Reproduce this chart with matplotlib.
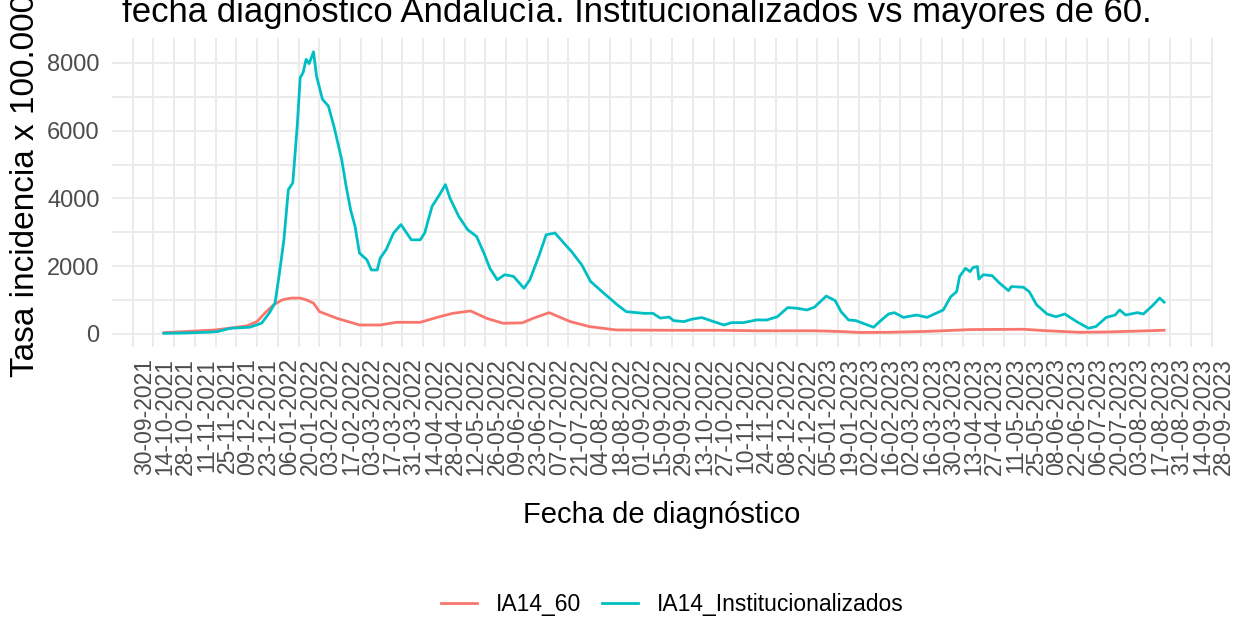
import matplotlib
matplotlib.use("Agg")
import matplotlib.pyplot as plt
import pandas as pd

plt.rcParams['font.family'] = ['Liberation Sans', 'DejaVu Sans']

# IA14 residencias (institucionalizados)
inst_fechas = [
    "2021-10-21", "2021-11-04", "2021-11-18", "2021-11-26", "2021-12-05", "2021-12-18",
    "2021-12-26", "2021-12-31", "2022-01-04", "2022-01-07", "2022-01-10", "2022-01-13",
    "2022-01-16", "2022-01-19", "2022-01-21", "2022-01-23", "2022-01-25", "2022-01-27",
    "2022-01-30", "2022-02-01", "2022-02-05", "2022-02-09", "2022-02-13", "2022-02-18",
    "2022-02-21", "2022-02-24", "2022-02-27", "2022-03-02", "2022-03-07", "2022-03-10",
    "2022-03-14", "2022-03-16", "2022-03-20", "2022-03-25", "2022-03-30", "2022-04-06",
    "2022-04-12", "2022-04-15", "2022-04-20", "2022-04-25", "2022-04-29", "2022-05-02",
    "2022-05-08", "2022-05-14", "2022-05-20", "2022-05-25", "2022-05-29", "2022-06-03",
    "2022-06-08", "2022-06-14", "2022-06-21", "2022-06-25", "2022-07-01", "2022-07-06",
    "2022-07-12", "2022-07-18", "2022-07-23", "2022-07-30", "2022-08-05", "2022-08-14",
    "2022-08-23", "2022-08-29", "2022-09-10", "2022-09-16", "2022-09-21", "2022-09-27",
    "2022-09-30", "2022-10-07", "2022-10-12", "2022-10-19", "2022-10-25", "2022-11-03",
    "2022-11-08", "2022-11-16", "2022-11-25", "2022-12-02", "2022-12-09", "2022-12-16",
    "2022-12-22", "2022-12-29", "2023-01-03", "2023-01-11", "2023-01-17", "2023-01-21",
    "2023-01-26", "2023-01-31", "2023-02-06", "2023-02-12", "2023-02-16", "2023-02-22",
    "2023-02-26", "2023-03-04", "2023-03-13", "2023-03-20", "2023-03-27", "2023-03-31",
    "2023-04-05", "2023-04-09", "2023-04-11", "2023-04-15", "2023-04-18", "2023-04-20",
    "2023-04-23", "2023-04-24", "2023-04-27", "2023-05-03", "2023-05-08", "2023-05-14",
    "2023-05-16", "2023-05-24", "2023-05-28", "2023-06-02", "2023-06-09", "2023-06-15",
    "2023-06-21", "2023-06-29", "2023-07-07", "2023-07-12", "2023-07-19", "2023-07-25",
    "2023-07-28", "2023-08-01", "2023-08-09", "2023-08-13", "2023-08-19", "2023-08-24",
    "2023-08-27",
]
inst_valores = [
    20, 30, 50, 70, 170, 200,
    320, 610, 910, 1800, 2780, 4260,
    4460, 6140, 7570, 7720, 8110, 7980,
    8330, 7620, 6930, 6730, 6090, 5150,
    4360, 3670, 3180, 2390, 2190, 1890,
    1890, 2240, 2490, 2980, 3230, 2780,
    2780, 2980, 3770, 4110, 4410, 4020,
    3470, 3080, 2880, 2390, 1940, 1600,
    1750, 1700, 1350, 1600, 2290, 2930,
    2980, 2680, 2440, 2040, 1550, 1200,
    860, 660, 610, 610, 470, 500,
    395, 365, 435, 485, 395, 266,
    335, 335, 415, 415, 510, 780,
    760, 710, 790, 1120, 985, 660,
    415, 395, 296, 200, 365, 590,
    630, 490, 560, 490, 630, 710,
    1100, 1250, 1700, 1940, 1840, 1960,
    1990, 1620, 1750, 1720, 1500, 1280,
    1400, 1380, 1250, 860, 590, 510,
    590, 365, 170, 220, 490, 560,
    710, 560, 630, 590, 830, 1060,
    940,
]

# IA14 mayores de 60
may60_fechas = [
    "2021-10-21", "2021-11-25", "2021-12-16", "2021-12-23", "2021-12-28", "2022-01-03",
    "2022-01-09", "2022-01-15", "2022-01-21", "2022-01-25", "2022-01-30", "2022-02-03",
    "2022-02-15", "2022-03-02", "2022-03-16", "2022-03-27", "2022-04-12", "2022-04-25",
    "2022-05-04", "2022-05-16", "2022-05-27", "2022-06-07", "2022-06-20", "2022-06-27",
    "2022-07-08", "2022-07-22", "2022-08-04", "2022-08-22", "2022-09-27", "2022-10-31",
    "2022-11-25", "2023-01-03", "2023-01-23", "2023-02-02", "2023-02-22", "2023-03-22",
    "2023-04-18", "2023-05-24", "2023-06-07", "2023-07-01", "2023-07-20", "2023-08-27",
]
may60_valores = [
    40, 120, 240, 370, 610, 860,
    1010, 1060, 1060, 1010, 910, 660,
    460, 266, 266, 345, 345, 510,
    610, 680, 460, 316, 330, 460,
    630, 370, 220, 120, 110, 110,
    95, 95, 70, 45, 50, 80,
    130, 140, 100, 50, 60, 110,
]

series = ["IA14_60", "IA14_Institucionalizados"]
colores = ["#F8766D", "#00BFC4"]

ticks = pd.date_range("2021-09-30", "2023-09-28", freq="14D")

fig = plt.figure(figsize=(12.39, 6.19), dpi=100)
ax = fig.add_axes([112 / 1239, 1 - 347 / 619, (1213 - 112) / 1239, (347 - 38) / 619])

ax.plot(pd.to_datetime(may60_fechas), may60_valores, color=colores[0], lw=2.0, label=series[0])
ax.plot(pd.to_datetime(inst_fechas), inst_valores, color=colores[1], lw=2.0, label=series[1])

ax.set_xlim(pd.Timestamp("2021-09-16"), pd.Timestamp("2023-09-29"))
ax.set_ylim(-384, 8738)
ax.set_xticks(ticks)
ax.set_xticklabels([t.strftime("%d-%m-%Y") for t in ticks], rotation=90,
                   ha="left", va="top", fontsize=16.5, color="#4D4D4D")
ax.set_yticks([0, 2000, 4000, 6000, 8000])
ax.set_yticks([1000, 3000, 5000, 7000], minor=True)
ax.tick_params(axis="y", labelsize=17, colors="#4D4D4D", length=0, pad=9)
ax.tick_params(axis="y", which="minor", length=0)
ax.tick_params(axis="x", length=0, pad=8)
ax.grid(True, which="both", color="#EBEBEB", lw=1.4)
for s in ax.spines.values():
    s.set_visible(False)
ax.set_axisbelow(True)

fig.text(122 / 1239, 1 - 22 / 619,
         "fecha diagnóstico Andalucía. Institucionalizados vs mayores de 60.",
         fontsize=25, ha="left", va="baseline")
fig.text(26 / 1239, 1 - 377 / 619, "Tasa incidencia x 100.000", rotation=90,
         fontsize=24, ha="center", va="bottom")
fig.text(662 / 1239, 1 - 515 / 619, "Fecha de diagnóstico", fontsize=21,
         ha="center", va="center")

fig.legend(loc="center", bbox_to_anchor=(672 / 1239, 1 - 605 / 619), ncol=2,
           frameon=False, fontsize=16.5, handlelength=1.6, handletextpad=0.8,
           columnspacing=0.9)

fig.savefig("out.png", dpi=100)
